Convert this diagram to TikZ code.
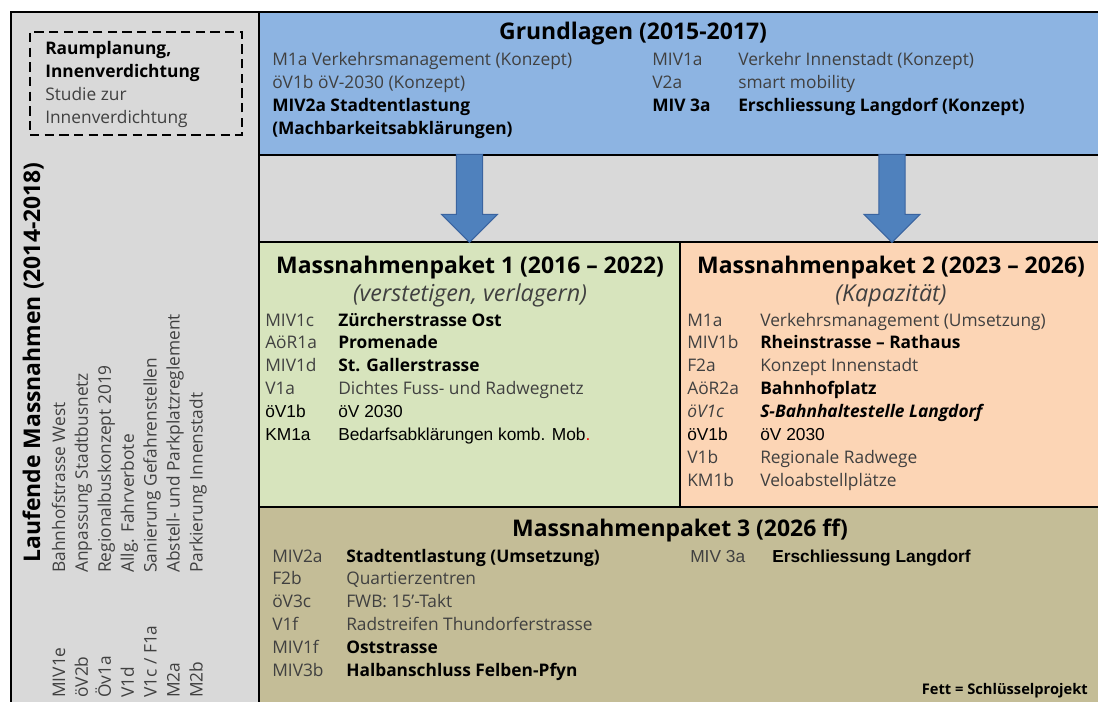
\documentclass[tikz,border=0pt]{standalone}
\usepackage{fontspec}
\setmainfont{Open Sans}
\newfontfamily\arialschrift{Liberation Sans}
\usetikzlibrary{fit,shapes.arrows}

\definecolor{hellgrau}{HTML}{D9D9D9}
\definecolor{grundblau}{HTML}{8DB4E2}
\definecolor{paketgruen}{HTML}{D7E4BD}
\definecolor{paketorange}{HTML}{FCD5B5}
\definecolor{paketbraun}{HTML}{C4BD97}
\definecolor{pfeilblau}{HTML}{4F81BD}
\definecolor{pfeilrand}{HTML}{3A64A0}
\definecolor{schrift}{HTML}{404040}

\newcommand{\fett}[1]{\leavevmode{\bfseries\color{black}#1}}
\newcommand{\arialtext}[1]{\leavevmode{\arialschrift\color{black}#1}}

\tikzset{
  kasten/.style={draw=black, line width=1.2pt, inner sep=0pt},
  titel/.style={anchor=base, inner sep=0pt, font=\fontsize{17.2}{20}\selectfont\bfseries},
  untertitel/.style={anchor=base, inner sep=0pt, text=schrift, font=\fontsize{17.5}{20}\selectfont\itshape},
  liste/.style={anchor=base west, inner sep=0pt, text=schrift, font=\fontsize{13}{17.2}\selectfont},
  pfeil/.style={single arrow, draw=pfeilrand, fill=pfeilblau, line width=0.8pt,
    rotate=-90, anchor=tail, minimum height=66pt, minimum width=41pt,
    single arrow head extend=11pt, inner xsep=0pt, inner ysep=9.5pt}
}

\begin{document}
\begin{tikzpicture}[x=0.75pt, y=-0.75pt]
\path[use as bounding box] (0,0) rectangle (1098,702);
\clip (0,0) rectangle (1098,702);

% Rahmen und Kaesten
\node[kasten, fill=hellgrau, fit={(11,12) (1110,714)}] (rahmen) {};
\node[kasten, fill=grundblau, fit={(259,12) (1104,155)}] (grund) {};
\node[kasten, fit={(259,155) (1104,242)}] (band) {};
\node[kasten, fill=paketgruen, fit={(259,242) (680,507)}] (pak1) {};
\node[kasten, fill=paketorange, fit={(680,242) (1104,507)}] (pak2) {};
\node[kasten, fill=paketbraun, fit={(259,507) (1104,714)}] (pak3) {};

% Pfeile
\node[pfeil] (pfeil1) at ([yshift=1.5pt]grund.south -| pak1.north) {};
\node[pfeil] (pfeil2) at ([yshift=1.5pt]grund.south -| pak2.north) {};

% Raumplanung
\node[draw=black, line width=1.5pt, dash pattern=on 7pt off 4pt, inner sep=0pt,
  fit={(30,32) (242,135)}] (raum) {};
\node[liste] (raumtext) at (45,55) {\begin{tabular}[t]{@{}l@{}}
  \fett{Raumplanung,}\\ \fett{Innenverdichtung}\\ Studie zur\\ Innenverdichtung
\end{tabular}};

% Laufende Massnahmen
\node[titel, rotate=90, anchor=base west] (laufend) at (40,563) {Laufende Massnahmen (2014-2018)};
\node[liste, rotate=90] (laufliste) at (65,698) {\begin{tabular}[t]{@{}p{93.75pt}@{}l@{}}
  MIV1e & Bahnhofstrasse West\\
  öV2b & Anpassung Stadtbusnetz\\
  Öv1a & Regionalbuskonzept 2019\\
  V1d & Allg. Fahrverbote\\
  V1c / F1a & Sanierung Gefahrenstellen\\
  M2a & Abstell- und Parkplatzreglement\\
  M2b & Parkierung Innenstadt
\end{tabular}};

% Grundlagen
\node[titel] (grundtitel) at (633,40) {Grundlagen (2015-2017)};
\node[liste] (grundlinks) at (272,66) {\begin{tabular}[t]{@{}l@{}}
  M1a Verkehrsmanagement (Konzept)\\
  öV1b öV-2030 (Konzept)\\
  \fett{MIV2a Stadtentlastung}\\
  \fett{(Machbarkeitsabklärungen)}
\end{tabular}};
\node[liste] (grundrechts) at (652,66) {\begin{tabular}[t]{@{}p{64.5pt}@{}l@{}}
  MIV1a & Verkehr Innenstadt (Konzept)\\
  V2a & smart mobility\\
  \fett{MIV 3a} & \fett{Erschliessung Langdorf (Konzept)}
\end{tabular}};

% Massnahmenpaket 1
\node[titel] (titel1) at (470,273) {Massnahmenpaket 1 (2016 – 2022)};
\node[untertitel] (unter1) at (470,301) {(verstetigen, verlagern)};
\node[liste] (liste1) at (265,326) {\begin{tabular}[t]{@{}p{54.75pt}@{}l@{}}
  MIV1c & \fett{Zürcherstrasse Ost}\\
  AöR1a & \fett{Promenade}\\
  MIV1d & \fett{St. Gallerstrasse}\\
  V1a & Dichtes Fuss- und Radwegnetz\\
  \arialtext{öV1b} & \arialtext{öV 2030}\\
  \arialtext{KM1a} & \arialtext{Bedarfsabklärungen komb. Mob\textcolor{red}{.}}
\end{tabular}};

% Massnahmenpaket 2
\node[titel] (titel2) at (891,273) {Massnahmenpaket 2 (2023 – 2026)};
\node[untertitel] (unter2) at (891,301) {(Kapazität)};
\node[liste] (liste2) at (687,326) {\begin{tabular}[t]{@{}p{54.75pt}@{}l@{}}
  M1a & Verkehrsmanagement (Umsetzung)\\
  MIV1b & \fett{Rheinstrasse – Rathaus}\\
  F2a & Konzept Innenstadt\\
  AöR2a & \fett{Bahnhofplatz}\\
  \textit{öV1c} & \fett{\itshape S-Bahnhaltestelle Langdorf}\\
  \arialtext{öV1b} & \arialtext{öV 2030}\\
  V1b & Regionale Radwege\\
  KM1b & Veloabstellplätze
\end{tabular}};

% Massnahmenpaket 3
\node[titel] (titel3) at (680,536) {Massnahmenpaket 3 (2026 ff)};
\node[liste] (liste3) at (272,562) {\begin{tabular}[t]{@{}p{55.5pt}@{}l@{}}
  MIV2a & \fett{Stadtentlastung (Umsetzung)}\\
  F2b & Quartierzentren\\
  öV3c & FWB: 15’-Takt\\
  V1f & Radstreifen Thundorferstrasse\\
  MIV1f & \fett{Oststrasse}\\
  MIV3b & \fett{Halbanschluss Felben-Pfyn}
\end{tabular}};
\node[liste] (liste3b) at (690,562) {\begin{tabular}[t]{@{}p{61.5pt}@{}l@{}}
  {\arialschrift MIV 3a} & \arialtext{\bfseries Erschliessung Langdorf}
\end{tabular}};
\node[anchor=base east, inner sep=0pt, font=\fontsize{11}{13}\selectfont\bfseries] (legende) at (1088,694) {Fett = Schlüsselprojekt};
\end{tikzpicture}
\end{document}
